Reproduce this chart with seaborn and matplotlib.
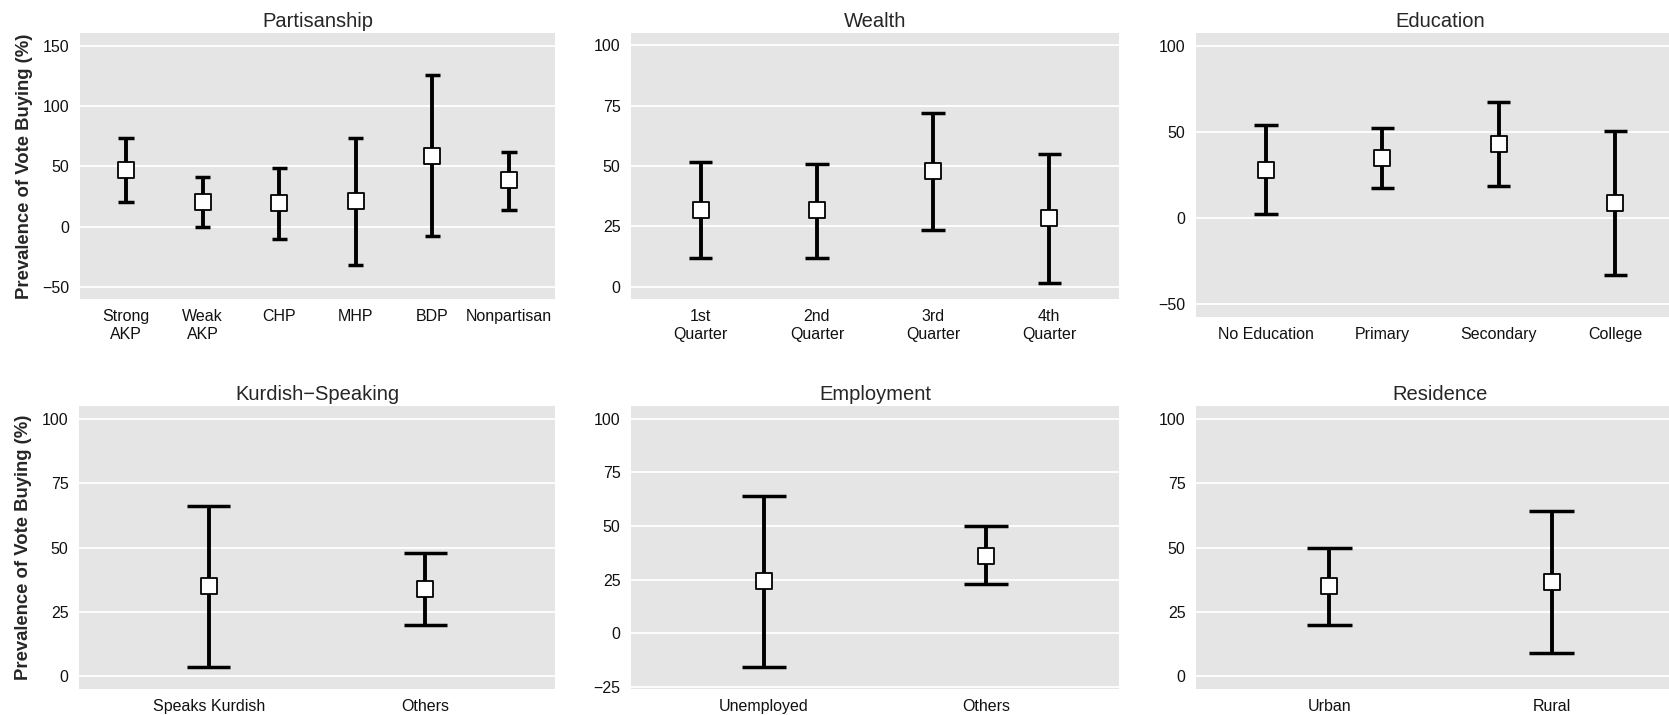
import numpy as np
import pandas as pd
import matplotlib.pyplot as plt
import seaborn as sns

# ggplot-like grey panel look
sns.set_theme(style="darkgrid", rc={
    "axes.facecolor": "#E5E5E5",
    "grid.color": "white",
    "grid.linewidth": 1.3,
})
plt.rcParams['font.family'] = ['Liberation Sans', 'DejaVu Sans']

# ---- data (estimate, lower, upper) ----
party_labels = ['Strong\nAKP', 'Weak\nAKP', 'CHP', 'MHP', 'BDP', 'Nonpartisan']
party_est = [46.7, 20.3, 19.7, 21.4, 58.9, 38.3]
party_lo = [20.3, -0.6, -10.6, -31.7, -8.1, 13.9]
party_hi = [73.1, 41.1, 48.6, 73.3, 125.6, 61.9]

wealth_labels = ['1st\nQuarter', '2nd\nQuarter', '3rd\nQuarter', '4th\nQuarter']
wealth_est = [31.9, 31.6, 47.8, 28.3]
wealth_lo = [12.0, 12.0, 23.7, 1.5]
wealth_hi = [51.7, 50.7, 72.0, 54.8]

edu_labels = ['No Education', 'Primary', 'Secondary', 'College']
edu_est = [28.1, 34.9, 43.3, 8.6]
edu_lo = [2.1, 17.5, 18.5, -33.3]
edu_hi = [53.8, 52.2, 67.6, 50.3]

kurd_labels = ['Speaks Kurdish', 'Others']
kurd_est = [35.0, 34.0]
kurd_lo = [3.7, 19.9]
kurd_hi = [66.1, 47.7]

emp_labels = ['Unemployed', 'Others']
emp_est = [24.3, 36.0]
emp_lo = [-15.6, 22.9]
emp_hi = [63.8, 50.1]

res_labels = ['Urban', 'Rural']
res_est = [34.9, 36.6]
res_lo = [19.9, 8.9]
res_hi = [49.9, 64.3]

W, H = 1669, 715
fig = plt.figure(figsize=(W / 100, H / 100), dpi=100)


def add_panel(box, title, labels, est, lo, hi, ylim, yticks, ylabel=False):
    x0, y0, x1, y1 = box  # pixel box, y from top
    ax = fig.add_axes([x0 / W, 1 - y1 / H, (x1 - x0) / W, (y1 - y0) / H])
    n = len(labels)
    df = pd.DataFrame({'pos': np.arange(n), 'est': est, 'lo': lo, 'hi': hi})

    ax.vlines(df['pos'], df['lo'], df['hi'], color='black', lw=2.8, zorder=2)
    ax.hlines(df['lo'], df['pos'] - 0.1, df['pos'] + 0.1, color='black', lw=2.5, zorder=2)
    ax.hlines(df['hi'], df['pos'] - 0.1, df['pos'] + 0.1, color='black', lw=2.5, zorder=2)
    sns.scatterplot(data=df, x='pos', y='est', marker='s', s=125, color='white',
                    edgecolor='black', linewidth=1.3, ax=ax, zorder=3, legend=False)

    ax.set_xlim(-0.6, n - 0.4)
    ax.set_ylim(*ylim)
    ax.set_xticks(df['pos'])
    ax.set_xticklabels(labels, fontsize=11.5, color='#111111')
    ax.set_yticks(yticks)
    ax.set_yticklabels([str(t).replace('-', '\u2212') for t in yticks], fontsize=11.5, color='#111111')
    ax.grid(axis='x', visible=False)
    ax.grid(axis='y', color='white', lw=1.3)
    ax.tick_params(axis='both', length=5, width=0.9, color='#555555', pad=2.5)
    for s in ax.spines.values():
        s.set_visible(False)
    ax.set_xlabel('')
    ax.set_ylabel('Prevalence of Vote Buying (%)' if ylabel else '',
                  fontsize=13.3, fontweight='bold', labelpad=7)
    ax.set_title(title, fontsize=14.5, pad=4)
    return ax


add_panel((80, 33, 555, 299), 'Partisanship', party_labels, party_est, party_lo, party_hi,
          (-60, 160.5), [-50, 0, 50, 100, 150], ylabel=True)
add_panel((631, 33, 1119, 299), 'Wealth', wealth_labels, wealth_est, wealth_lo, wealth_hi,
          (-5, 105), [0, 25, 50, 75, 100])
add_panel((1196, 33, 1685, 317), 'Education', edu_labels, edu_est, edu_lo, edu_hi,
          (-57.5, 107.5), [-50, 0, 50, 100])
add_panel((79, 406, 555, 689), 'Kurdish\u2212Speaking', kurd_labels, kurd_est, kurd_lo, kurd_hi,
          (-5, 105), [0, 25, 50, 75, 100], ylabel=True)
add_panel((631, 406, 1119, 689), 'Employment', emp_labels, emp_est, emp_lo, emp_hi,
          (-26, 106), [-25, 0, 25, 50, 75, 100])
add_panel((1196, 406, 1685, 689), 'Residence', res_labels, res_est, res_lo, res_hi,
          (-5, 105), [0, 25, 50, 75, 100])

fig.savefig('out.png', dpi=100)
